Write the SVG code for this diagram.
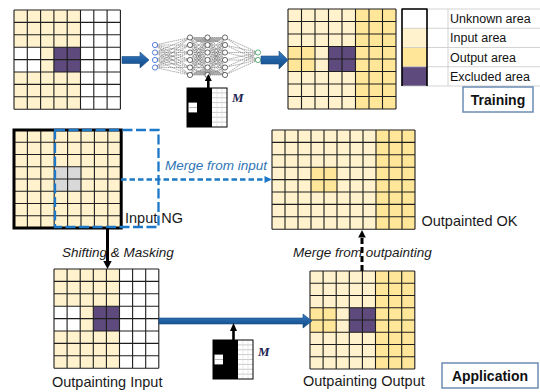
<svg xmlns="http://www.w3.org/2000/svg" xmlns:xlink="http://www.w3.org/1999/xlink" width="540" height="392" viewBox="0 0 540 392">
<style>
.grid{fill:none;stroke:#1e1e1e;stroke-width:1.1}
.in{fill:#FFF2CC}
.out{fill:#FFE699}
.ex{fill:#5E4A7D}
.wh{fill:#FFFFFF}
.lbl{font-family:"Liberation Sans",Arial,sans-serif;font-size:14.5px;fill:#1a1a1a}
.it{font-family:"Liberation Sans",Arial,sans-serif;font-size:13.5px;font-style:italic}
.leg{font-family:"Liberation Sans",Arial,sans-serif;font-size:12.5px;fill:#111}
.bold{font-family:"Liberation Sans",Arial,sans-serif;font-size:14px;font-weight:bold;fill:#111;text-anchor:middle}
.mtxt{font-family:"Liberation Serif","Times New Roman",serif;font-size:13px;font-style:italic;font-weight:bold;fill:#1d2350}
.edge{fill:none;stroke:#6a6a6a;stroke-width:0.6;stroke-dasharray:1.4 0.7}
.node{fill:#fff;stroke:#444;stroke-width:0.8}
.fat{fill:url(#blueg);stroke:#174a80;stroke-width:0.6}
</style>
<defs>
<linearGradient id="blueg" x1="0" y1="0" x2="0" y2="1">
<stop offset="0" stop-color="#3f82c8"/>
<stop offset="0.5" stop-color="#1f5fa2"/>
<stop offset="1" stop-color="#174a82"/>
</linearGradient>
<path id="m66" d="M0 37.5L17.5 37.5M0 37.5L17.5 45M0 37.5L17.5 52.5M0 37.5L17.5 60M0 37.5L17.5 67.5M0 37.5L17.5 75M0 45L17.5 37.5M0 45L17.5 45M0 45L17.5 52.5M0 45L17.5 60M0 45L17.5 67.5M0 45L17.5 75M0 52.5L17.5 37.5M0 52.5L17.5 45M0 52.5L17.5 52.5M0 52.5L17.5 60M0 52.5L17.5 67.5M0 52.5L17.5 75M0 60L17.5 37.5M0 60L17.5 45M0 60L17.5 52.5M0 60L17.5 60M0 60L17.5 67.5M0 60L17.5 75M0 67.5L17.5 37.5M0 67.5L17.5 45M0 67.5L17.5 52.5M0 67.5L17.5 60M0 67.5L17.5 67.5M0 67.5L17.5 75M0 75L17.5 37.5M0 75L17.5 45M0 75L17.5 52.5M0 75L17.5 60M0 75L17.5 67.5M0 75L17.5 75"/>
<g id="col6">
<circle class="node" cx="0" cy="37.5" r="2.6"/><circle class="node" cx="0" cy="45" r="2.6"/><circle class="node" cx="0" cy="52.5" r="2.6"/><circle class="node" cx="0" cy="60" r="2.6"/><circle class="node" cx="0" cy="67.5" r="2.6"/><circle class="node" cx="0" cy="75" r="2.6"/>
</g>
<g id="maskicon">
<rect x="0" y="0" width="40" height="39" fill="#fff"/>
<path d="M25 4.9H40M25 9.75H40M25 14.6H40M25 19.5H40M25 24.4H40M25 29.25H40M25 34.1H40" stroke="#b5b5b5" stroke-width="0.7" fill="none"/>
<path d="M30 0V39M35 0V39" stroke="#dcdcdc" stroke-width="0.6" fill="none"/>
<rect x="0" y="0" width="25" height="39" fill="#000"/>
<rect x="1.5" y="14.6" width="8.5" height="9.8" fill="#fff"/>
<path d="M1.5 19.5H10" stroke="#999" stroke-width="0.7"/>
<rect x="0" y="0" width="40" height="39" fill="none" stroke="#000" stroke-width="1"/>
</g>
</defs>

<g id="training-input">
<rect class="wh" x="14" y="10" width="106.4" height="99.2"/>
<rect class="in" x="14" y="10" width="66.5" height="37.2"/>
<rect class="in" x="14" y="72" width="66.5" height="37.2"/>
<rect class="in" x="40.6" y="47.2" width="13.3" height="24.8"/>
<rect class="ex" x="53.9" y="47.2" width="26.6" height="24.8"/>
<path class="grid" d="M14 10V109.2M27.3 10V109.2M40.6 10V109.2M53.9 10V109.2M67.2 10V109.2M80.5 10V109.2M93.8 10V109.2M107.1 10V109.2M120.4 10V109.2M14 10H120.4M14 22.4H120.4M14 34.8H120.4M14 47.2H120.4M14 59.6H120.4M14 72H120.4M14 84.4H120.4M14 96.8H120.4M14 109.2H120.4"/>
</g>

<g id="network">
<path class="edge" d="M155 45L190 37.5M155 45L190 45M155 45L190 52.5M155 45L190 60M155 45L190 67.5M155 45L190 75M155 52.5L190 37.5M155 52.5L190 45M155 52.5L190 52.5M155 52.5L190 60M155 52.5L190 67.5M155 52.5L190 75M155 60L190 37.5M155 60L190 45M155 60L190 52.5M155 60L190 60M155 60L190 67.5M155 60L190 75M155 67.5L190 37.5M155 67.5L190 45M155 67.5L190 52.5M155 67.5L190 60M155 67.5L190 67.5M155 67.5L190 75"/>
<use href="#m66" x="190" class="edge"/>
<use href="#m66" x="207.5" class="edge"/>
<path class="edge" d="M225 37.5L258 52.5M225 37.5L258 60M225 45L258 52.5M225 45L258 60M225 52.5L258 52.5M225 52.5L258 60M225 60L258 52.5M225 60L258 60M225 67.5L258 52.5M225 67.5L258 60M225 75L258 52.5M225 75L258 60"/>
<path d="M192 37.5H223L218 42H197Z M192 75H223L218 70.5H197Z" fill="#8a8a8a" opacity="0.7"/>
<use href="#col6" x="190"/>
<use href="#col6" x="207.5"/>
<use href="#col6" x="225"/>
<g fill="#fff" stroke="#2f62d0" stroke-width="0.8">
<circle cx="155" cy="45" r="2.6"/><circle cx="155" cy="52.5" r="2.6"/><circle cx="155" cy="60" r="2.6"/><circle cx="155" cy="67.5" r="2.6"/>
</g>
<g fill="#fff" stroke="#3c9e5a" stroke-width="0.8">
<circle cx="258" cy="52.5" r="2.6"/><circle cx="258" cy="60" r="2.6"/>
</g>
</g>

<g id="mask-training">
<use href="#maskicon" x="187" y="88"/>
<text class="mtxt" x="232" y="102">M</text>
</g>

<g id="training-output">
<rect class="out" x="288" y="9" width="108" height="100"/>
<rect class="in" x="288" y="9" width="67.5" height="37.5"/>
<rect class="in" x="288" y="71.5" width="67.5" height="37.5"/>
<rect class="in" x="315" y="46.5" width="13.5" height="25"/>
<rect class="ex" x="328.5" y="46.5" width="27" height="25"/>
<path class="grid" d="M288 9V109M301.5 9V109M315 9V109M328.5 9V109M342 9V109M355.5 9V109M369 9V109M382.5 9V109M396 9V109M288 9H396M288 21.5H396M288 34H396M288 46.5H396M288 59H396M288 71.5H396M288 84H396M288 96.5H396M288 109H396"/>
</g>

<g id="legend">
<rect x="402" y="9" width="25" height="19.25" fill="#fff"/>
<rect class="in" x="402" y="28.25" width="25" height="19.25"/>
<rect class="out" x="402" y="47.5" width="25" height="19.25"/>
<rect class="ex" x="402" y="66.75" width="25" height="19.25"/>
<path d="M402 9H540M402 28.25H540M402 47.5H540M402 66.75H540M402 86H540M448 9V86" stroke="#c8c8c8" stroke-width="0.8" fill="none"/>
<path d="M402 9H427M402 8.5V86M427 8.5V86" stroke="#000" stroke-width="1.6" fill="none"/>
<text class="leg" x="450" y="23.2">Unknown area</text>
<text class="leg" x="450" y="42.4">Input area</text>
<text class="leg" x="450" y="61.6">Output area</text>
<text class="leg" x="450" y="80.9">Excluded area</text>
</g>

<g id="training-label">
<rect x="463" y="87" width="70" height="25" fill="#fff" stroke="#6b8cb3" stroke-width="1.5"/>
<text class="bold" x="498" y="104.5">Training</text>
</g>

<g id="input-ng">
<rect class="in" x="14" y="130" width="107.2" height="98"/>
<rect x="54.2" y="166.75" width="26.8" height="24.5" fill="#D9D9D9"/>
<path class="grid" d="M27.4 130V228M40.8 130V228M54.2 130V228M67.6 130V228M81 130V228M94.4 130V228M107.8 130V228M14 142.25H121.2M14 154.5H121.2M14 166.75H121.2M14 179H121.2M14 191.25H121.2M14 203.5H121.2M14 215.75H121.2"/>
<rect x="14" y="130" width="107.2" height="98" fill="none" stroke="#000" stroke-width="3"/>
<text class="lbl" x="125" y="222.5">Input NG</text>
<rect x="55" y="130" width="103.5" height="97" fill="none" stroke="#1e78c8" stroke-width="2.3" stroke-dasharray="10 3.5"/>
</g>

<g id="outpainted-ok">
<rect class="in" x="272" y="130" width="143" height="99.2"/>
<rect class="out" x="376" y="130" width="39" height="99.2"/>
<rect class="out" x="311" y="167.2" width="26" height="24.8"/>
<path class="grid" d="M272 130V229.2M285 130V229.2M298 130V229.2M311 130V229.2M324 130V229.2M337 130V229.2M350 130V229.2M363 130V229.2M376 130V229.2M389 130V229.2M402 130V229.2M415 130V229.2M272 130H415M272 142.4H415M272 154.8H415M272 167.2H415M272 179.6H415M272 192H415M272 204.4H415M272 216.8H415M272 229.2H415"/>
<text class="lbl" x="421.5" y="226">Outpainted OK</text>
</g>

<g id="outpainting-input">
<rect class="wh" x="54" y="269" width="104.8" height="99.2"/>
<rect class="in" x="54" y="269" width="65.5" height="37.2"/>
<rect class="in" x="54" y="331" width="65.5" height="37.2"/>
<rect class="in" x="80.2" y="306.2" width="13.1" height="24.8"/>
<rect class="ex" x="93.3" y="306.2" width="26.2" height="24.8"/>
<path class="grid" d="M54 269V368.2M67.1 269V368.2M80.2 269V368.2M93.3 269V368.2M106.4 269V368.2M119.5 269V368.2M132.6 269V368.2M145.7 269V368.2M158.8 269V368.2M54 269H158.8M54 281.4H158.8M54 293.8H158.8M54 306.2H158.8M54 318.6H158.8M54 331H158.8M54 343.4H158.8M54 355.8H158.8M54 368.2H158.8"/>
<text class="lbl" x="52" y="387">Outpainting Input</text>
</g>

<g id="outpainting-output">
<rect class="out" x="310" y="271" width="104.8" height="98"/>
<rect class="in" x="310" y="271" width="65.5" height="36.75"/>
<rect class="in" x="310" y="332.25" width="65.5" height="36.75"/>
<rect class="in" x="336.2" y="307.75" width="13.1" height="24.5"/>
<rect class="ex" x="349.3" y="307.75" width="26.2" height="24.5"/>
<path class="grid" d="M310 271V369M323.1 271V369M336.2 271V369M349.3 271V369M362.4 271V369M375.5 271V369M388.6 271V369M401.7 271V369M414.8 271V369M310 271H414.8M310 283.25H414.8M310 295.5H414.8M310 307.75H414.8M310 320H414.8M310 332.25H414.8M310 344.5H414.8M310 356.75H414.8M310 369H414.8"/>
<text class="lbl" x="303" y="386">Outpainting Output</text>
</g>

<g id="mask-application">
<use href="#maskicon" x="213" y="340"/>
<text class="mtxt" x="258" y="356">M</text>
</g>

<g id="application-label">
<rect x="442" y="363" width="96" height="25" fill="#fff" stroke="#6b8cb3" stroke-width="1.5"/>
<text class="bold" x="490" y="380.5">Application</text>
</g>

<g id="connectors">
<polygon class="fat" points="122,56.5 140,56.5 140,52 149,60 140,68 140,63.5 122,63.5"/>
<polygon class="fat" points="261,56 279,56 279,51 288,60 279,69 279,64 261,64"/>
<polygon class="fat" points="159,318 303,318 303,314 312,321 303,328 303,324 159,324"/>
<path d="M208.3 88V80" stroke="#000" stroke-width="2.6"/>
<polygon points="204.8,81 208.3,74 211.8,81" fill="#000"/>
<path d="M233.5 340V330" stroke="#000" stroke-width="2.6"/>
<polygon points="230,331 233.5,323 237,331" fill="#000"/>
<path d="M107.5 228V261" stroke="#000" stroke-width="3"/>
<polygon points="103.3,261 111.7,261 107.5,269" fill="#000"/>
<path d="M362 271V237" stroke="#000" stroke-width="3" stroke-dasharray="6 3"/>
<polygon points="358.2,237.5 365.8,237.5 362,230" fill="#000"/>
<path d="M121 179.5H265" stroke="#1e78c8" stroke-width="2.7" stroke-dasharray="5.5 3"/>
<polygon points="264.5,176 272,179.5 264.5,183" fill="#1e78c8"/>
<text class="it" x="165" y="169.5" fill="#2e75b6">Merge from input</text>
<text class="it" x="62" y="257" fill="#1a1a1a">Shifting &amp; Masking</text>
<text class="it" x="293" y="257" fill="#1a1a1a">Merge from outpainting</text>
</g>
</svg>
